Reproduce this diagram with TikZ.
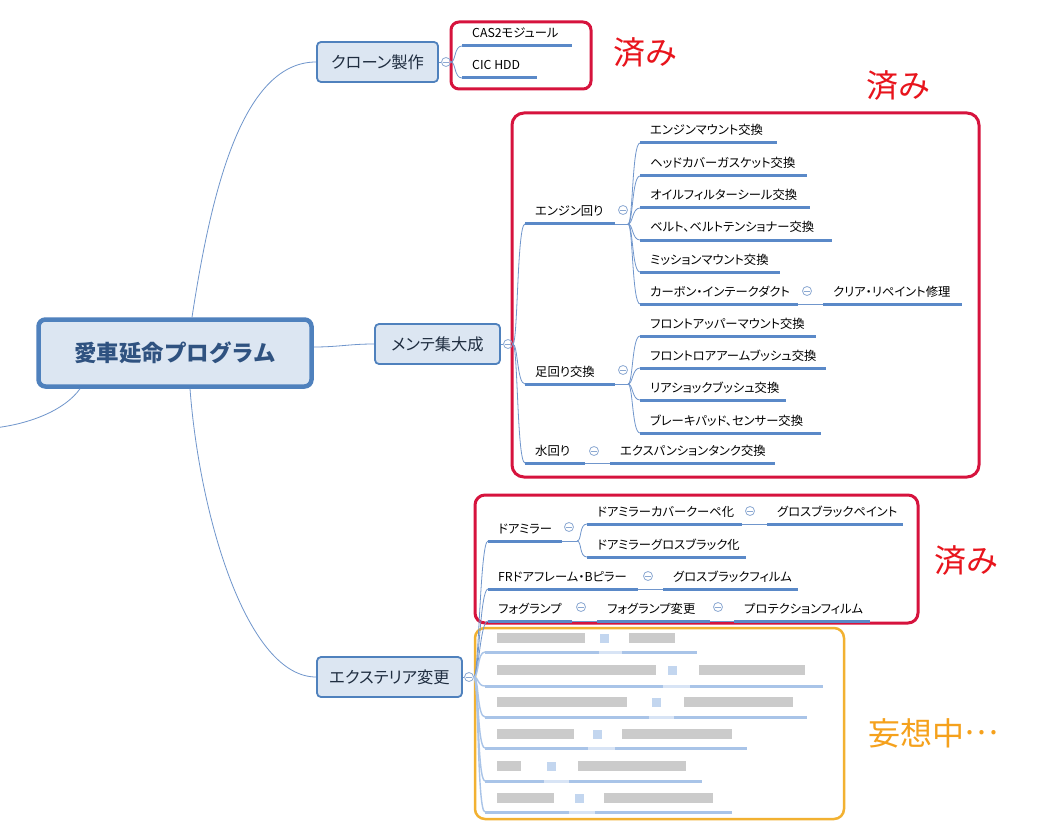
\documentclass[tikz,border=0pt]{standalone}
\usepackage{fontspec}
\setmainfont{Noto Sans CJK JP}
\newfontfamily\paltfont{Noto Sans CJK JP}[RawFeature=+palt]
\definecolor{boxfill}{HTML}{DCE6F2}
\definecolor{boxdraw}{HTML}{4F81BD}
\definecolor{roottext}{HTML}{2F5280}
\definecolor{boxtext}{HTML}{1F2D40}
\definecolor{ulc}{HTML}{5A89C8}
\definecolor{connc}{HTML}{7096CC}
\definecolor{circc}{HTML}{8CA9D2}
\definecolor{redbox}{HTML}{D6133D}
\definecolor{sumi}{HTML}{E8141C}
\definecolor{orgbox}{HTML}{F2B131}
\definecolor{mosou}{HTML}{F5A11C}
\definecolor{blurul}{HTML}{A9C4E8}
\definecolor{blurtx}{HTML}{CBCBCB}
\tikzset{
  rootbox/.style={draw=boxdraw, fill=boxfill, line width=4.5pt, rounded corners=7pt,
    minimum width=273pt, minimum height=67pt, inner sep=0pt,
    font=\fontsize{22.5pt}{26pt}\selectfont\bfseries, text=roottext},
  mainbox/.style={draw=boxdraw, fill=boxfill, line width=1.8pt, rounded corners=4pt,
    minimum height=40pt, inner sep=0pt, font=\paltfont\fontsize{16.3pt}{19pt}\selectfont, text=boxtext},
  tp/.style={font=\paltfont\fontsize{12.3pt}{14pt}\selectfont, text=black, inner sep=0pt},
  ul/.style={draw=ulc, line width=3pt},
  conn/.style={draw=connc, line width=0.8pt},
  coll/.style={circle, draw=circc, line width=0.8pt, minimum size=9pt, inner sep=0pt,
    path picture={\draw[circc, line width=0.8pt]
      ([xshift=-2.6pt]path picture bounding box.center) --
      ([xshift=2.6pt]path picture bounding box.center);}},
  redframe/.style={draw=redbox, line width=3pt},
  orgframe/.style={draw=orgbox, line width=2.5pt, rounded corners=10pt},
  donelabel/.style={font=\fontsize{32pt}{34pt}\selectfont, text=sumi, inner sep=0pt},
  idealabel/.style={font=\fontsize{32pt}{34pt}\selectfont, text=mosou, inner sep=0pt},
  blurline/.style={draw=blurul, line width=3pt},
  blurconn/.style={draw=blurul, line width=1.4pt},
}
\newcommand{\mmtopic}[5]{%
  \coordinate (#1-l) at (#2,#4);
  \coordinate (#1-r) at (#3,#4);
  \node[tp, anchor=base west] (#1) at (#2+10,#4-8) {#5};
  \draw[ul] (#1-l) -- (#1-r);
}
\newcommand{\mmbrace}[2]{\draw[conn] (#1) .. controls +(5,0) and +(-8,0) .. (#2);}
\begin{document}
\begin{tikzpicture}[x=1pt,y=-1pt]
\useasboundingbox (0,0) rectangle (1048,834);
\fill[white] (0,0) rectangle (1048,834);

% frames
\draw[redframe, rounded corners=8pt] (451,22) rectangle (591,89);
\draw[redframe, rounded corners=12pt] (512,113) rectangle (979,477);
\draw[redframe, rounded corners=10pt] (475,495) rectangle (918,623);
\draw[orgframe] (475,628) rectangle (844,819);

% main nodes
\node[rootbox] (root) at (175,353) {愛車延命プログラム};
\node[mainbox, minimum width=121pt] (clone) at (377.5,62) {クローン製作};
\node[mainbox, minimum width=125pt] (mente) at (437.5,344) {メンテ集大成};
\node[mainbox, minimum width=145pt] (ext) at (389.5,677) {エクステリア変更};

\coordinate (lft) at (-6,428);
\draw[conn] ([xshift=17pt]root.north) .. controls (210,200) and (240,62) .. (clone.west);
\draw[conn] ([yshift=6pt]root.east) .. controls +(25,0) and +(-25,0) .. (mente.west);
\draw[conn] ([xshift=15pt]root.south) .. controls (200,520) and (248,677) .. (ext.west);
\draw[conn] ([xshift=-95pt]root.south) .. controls (65,410) and (30,424) .. (lft);

% collapse circles of the main topics
\node[coll] (cc) at (446,62) {};
\node[coll] (cm) at (508,344) {};
\node[coll] (ce) at (469,677) {};
\draw[conn] (clone.east) -- (cc.west);
\draw[conn] (mente.east) -- (cm.west);
\draw[conn] (ext.east) -- (ce.west);

% clone children
\mmtopic{cas}{462}{572}{46}{CAS2モジュール}
\mmtopic{cic}{462}{537}{78}{CIC HDD}
\mmbrace{cc.east}{cas-l}
\mmbrace{cc.east}{cic-l}

% mente children
\mmtopic{eng}{525}{615}{224}{エンジン回り}
\mmtopic{ash}{525}{615}{384}{足回り交換}
\mmtopic{mizu}{525}{585}{463}{水回り}
\mmbrace{cm.east}{eng-l}
\mmbrace{cm.east}{ash-l}
\mmbrace{cm.east}{mizu-l}

\node[coll] (ceng) at (623,210) {};
\coordinate (engj) at (628,224);
\draw[conn] (eng-r) -- (engj);
\mmtopic{e1}{640}{777}{143}{エンジンマウント交換}
\mmtopic{e2}{640}{807}{176}{ヘッドカバーガスケット交換}
\mmtopic{e3}{640}{810}{208}{オイルフィルターシール交換}
\mmtopic{e4}{640}{832}{240}{ベルト、ベルトテンショナー交換}
\mmtopic{e5}{640}{780}{272}{ミッションマウント交換}
\mmtopic{e6}{640}{798}{304}{カーボン・インテークダクト}
\mmtopic{e6a}{823}{962}{304}{クリア・リペイント修理}
\foreach \c in {e1,e2,e3,e4,e5,e6} {\mmbrace{engj}{\c-l}}
\node[coll] (ce6) at (807,291) {};
\draw[conn] (e6-r) -- (e6a-l);

\node[coll] (cash) at (623,370) {};
\coordinate (ashj) at (628,384);
\draw[conn] (ash-r) -- (ashj);
\mmtopic{a1}{640}{816}{336}{フロントアッパーマウント交換}
\mmtopic{a2}{640}{826}{368}{フロントロアアームブッシュ交換}
\mmtopic{a3}{640}{786}{400}{リアショックブッシュ交換}
\mmtopic{a4}{640}{821}{433}{ブレーキパッド、センサー交換}
\foreach \c in {a1,a2,a3,a4} {\mmbrace{ashj}{\c-l}}

\node[coll] (cmizu) at (594,451) {};
\mmtopic{m1}{610}{775}{463}{エクスパンションタンク交換}
\draw[conn] (mizu-r) -- (m1-l);

% exterior children (done)
\mmtopic{dm}{488}{562}{541}{ドアミラー}
\node[coll] (cdm) at (569,527) {};
\coordinate (dmj) at (577,541);
\draw[conn] (dm-r) -- (dmj);
\mmtopic{dm1}{587}{742}{524}{ドアミラーカバークーペ化}
\mmtopic{dm1a}{767}{903}{524}{グロスブラックペイント}
\mmtopic{dm2}{587}{746}{557}{ドアミラーグロスブラック化}
\mmbrace{dmj}{dm1-l}
\mmbrace{dmj}{dm2-l}
\node[coll] (cdm1) at (750,511) {};
\draw[conn] (dm1-r) -- (dm1a-l);

\mmtopic{fr}{488}{638}{589}{FRドアフレーム・Bピラー}
\mmtopic{fr1}{663}{798}{589}{グロスブラックフィルム}
\node[coll] (cfr) at (648,576) {};
\draw[conn] (fr-r) -- (fr1-l);

\mmtopic{fog}{488}{572}{621}{フォグランプ}
\mmtopic{fog1}{597}{710}{621}{フォグランプ変更}
\mmtopic{fog2}{734}{870}{621}{プロテクションフィルム}
\node[coll] (cfog) at (581,607) {};
\node[coll] (cfog1) at (718,607) {};
\draw[conn] (fog-r) -- (fog1-l);
\draw[conn] (fog1-r) -- (fog2-l);

\mmbrace{ce.east}{dm-l}
\mmbrace{ce.east}{fr-l}
\mmbrace{ce.east}{fog-l}

% exterior children (blurred, still being planned)
\foreach \i/\yc/\yu/\la/\lb/\cx/\ra/\rb/\ub/\uc/\ud in {
  1/638/652/497/585/604/629/675/599/622/697,
  2/670/686/497/656/672/699/805/663/690/823,
  3/702/717/497/627/656/684/793/649/674/807,
  4/734/748/497/574/597/622/732/588/615/747,
  5/766/781/497/521/551/578/686/544/569/702,
  6/798/812/497/554/579/604/713/569/595/732} {
  \coordinate (b\i) at (485,\yu);
  \draw[blurconn] (ce.east) .. controls +(5,0) and +(-8,0) .. (b\i);
  \fill[blurtx] (\la,\yc-5) rectangle (\lb,\yc+5);
  \fill[blurtx] (\ra,\yc-5) rectangle (\rb,\yc+5);
  \fill[blurul!70] (\cx-4.5,\yc-4.5) rectangle (\cx+4.5,\yc+4.5);
  \draw[blurline] (b\i) -- (\ub,\yu);
  \draw[blurline, draw=blurul!45] (\ub,\yu) -- (\uc,\yu);
  \draw[blurline] (\uc,\yu) -- (\ud,\yu);
}

% status labels
\node[donelabel] (s1) at (645,53) {済み};
\node[donelabel] (s2) at (898,86) {済み};
\node[donelabel] (s3) at (966,560) {済み};
\node[idealabel] (s4) at (933,733) {妄想中\raisebox{0.32em}{…}};
\end{tikzpicture}
\end{document}
